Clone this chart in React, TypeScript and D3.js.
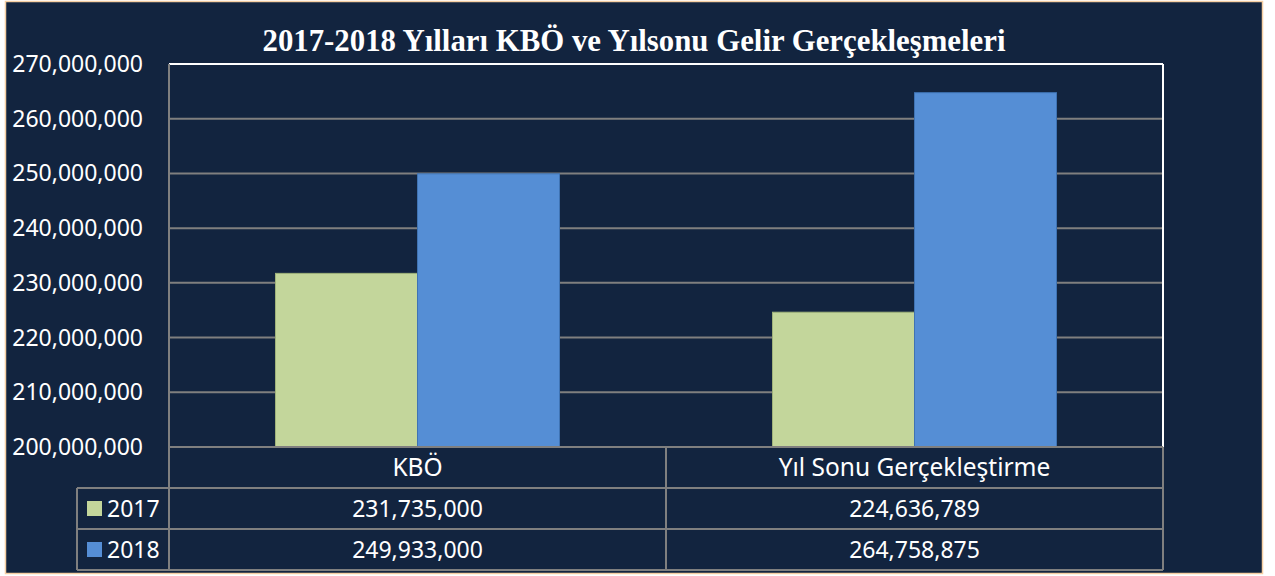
import * as d3 from 'd3';

// chart data
const categories = ['KBÖ', 'Yıl Sonu Gerçekleştirme'];
const seriesNames = ['2017', '2018'];
const values2017 = [231735000, 224636789];
const values2018 = [249933000, 264758875];
const yTicks = [200000000, 210000000, 220000000, 230000000, 240000000, 250000000, 260000000, 270000000];
const title = '2017-2018 Yılları KBÖ ve Yılsonu Gelir Gerçekleşmeleri';

const W = 1275;
const H = 576;
const BG = '#12243F';
const GRID = '#7f7f7f';
const colors = ['#C3D69B', '#558ED5'];
const strokeColors = ['#9fb27a', '#3f73b3'];
const FONT = '"Noto Sans", "Open Sans", sans-serif';

export default function App() {
  const plot = { left: 169, right: 1163, top: 64, bottom: 447 };
  const rowH = 41;
  const legendLeft = 77;

  const x = d3.scaleBand().domain(categories).range([plot.left, plot.right]);
  const x1 = d3.scaleBand().domain(seriesNames).range([0, x.bandwidth()]).paddingOuter(0.75);
  const y = d3.scaleLinear().domain([200000000, 270000000]).range([plot.bottom, plot.top]);
  const fmt = d3.format(',');

  const series = [values2017, values2018];

  return (
    <svg width={W} height={H} style={{ position: 'absolute', left: 0, top: 0, display: 'block' }}>
      <rect x={0} y={0} width={W} height={H} fill="#ffffff" />
      <rect x={5.5} y={1.5} width={1257} height={572} fill={BG} stroke="#f6cfa3" strokeWidth={1.5} />

      <text x={634} y={51} textAnchor="middle" fill="#fff" fontFamily='"Liberation Serif", "Times New Roman", serif'
        fontWeight="bold" fontSize={30.8}>{title}</text>

      {/* gridlines */}
      {yTicks.map(t => (
        <line key={t} x1={plot.left} x2={plot.right} y1={y(t)} y2={y(t)} stroke={GRID} strokeWidth={2} />
      ))}
      {/* y tick labels */}
      {yTicks.map(t => (
        <text key={'l' + t} x={143} y={y(t)} dy="0.35em" textAnchor="end" fill="#fff" fontFamily={FONT} fontSize={23}>
          {fmt(t)}
        </text>
      ))}

      {/* bars */}
      {categories.map((c, i) => (
        <g key={c} transform={`translate(${x(c)},0)`}>
          {seriesNames.map((s, j) => (
            <rect key={s} x={x1(s)} y={y(series[j][i])} width={x1.bandwidth()}
              height={plot.bottom - y(series[j][i])} fill={colors[j]} stroke={strokeColors[j]} strokeWidth={1} />
          ))}
        </g>
      ))}

      {/* plot frame: white top/right, gray left */}
      <line x1={plot.left} x2={plot.right} y1={plot.top} y2={plot.top} stroke="#fff" strokeWidth={2} />
      <line x1={plot.right} x2={plot.right} y1={plot.top} y2={plot.bottom} stroke="#fff" strokeWidth={2} />
      <line x1={plot.left} x2={plot.left} y1={plot.top} y2={plot.bottom + rowH * 3} stroke={GRID} strokeWidth={2} />

      {/* data table */}
      <g stroke={GRID} strokeWidth={2} fill="none">
        <line x1={plot.left} x2={plot.right} y1={plot.bottom} y2={plot.bottom} />
        <line x1={legendLeft} x2={plot.right} y1={plot.bottom + rowH} y2={plot.bottom + rowH} />
        <line x1={legendLeft} x2={plot.right} y1={plot.bottom + rowH * 2} y2={plot.bottom + rowH * 2} />
        <line x1={legendLeft} x2={plot.right} y1={plot.bottom + rowH * 3} y2={plot.bottom + rowH * 3} />
        <line x1={legendLeft} x2={legendLeft} y1={plot.bottom + rowH} y2={plot.bottom + rowH * 3} />
        <line x1={plot.right} x2={plot.right} y1={plot.bottom} y2={plot.bottom + rowH * 3} />
        {categories.slice(1).map(c => (
          <line key={c} x1={x(c)} x2={x(c)} y1={plot.bottom} y2={plot.bottom + rowH * 3} />
        ))}
      </g>
      {categories.map(c => (
        <text key={'h' + c} x={(x(c) || 0) + x.bandwidth() / 2} y={plot.bottom + rowH / 2} dy="0.35em"
          textAnchor="middle" fill="#fff" fontFamily={FONT} fontSize={24.5}>{c}</text>
      ))}
      {seriesNames.map((s, j) => (
        <g key={'row' + s}>
          <rect x={87} y={plot.bottom + rowH * (j + 1) + 13} width={15} height={15} fill={colors[j]} />
          <text x={107} y={plot.bottom + rowH * (j + 1.5)} dy="0.35em" fill="#fff" fontFamily={FONT} fontSize={23}>{s}</text>
          {categories.map((c, i) => (
            <text key={c} x={(x(c) || 0) + x.bandwidth() / 2} y={plot.bottom + rowH * (j + 1.5)} dy="0.35em"
              textAnchor="middle" fill="#fff" fontFamily={FONT} fontSize={23}>{fmt(series[j][i])}</text>
          ))}
        </g>
      ))}
    </svg>
  );
}
